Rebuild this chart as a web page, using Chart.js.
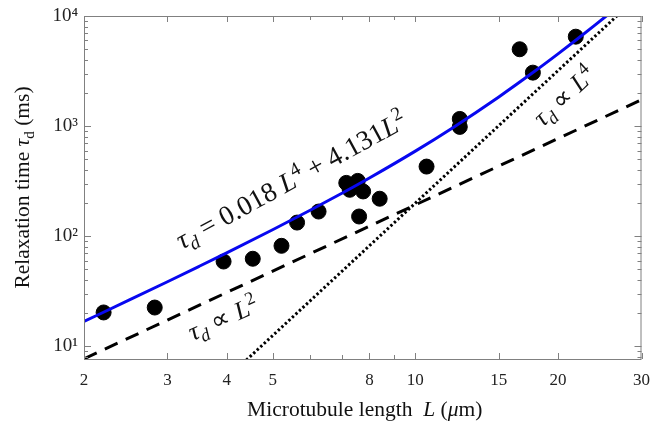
<!DOCTYPE html>
<html>
<head>
<meta charset="utf-8">
<script src="https://cdn.jsdelivr.net/npm/chart.js@4"></script>
<style>
  html, body { margin: 0; padding: 0; background: #fff; }
  #wrap { width: 650px; height: 421px; }
</style>
</head>
<body>
<div id="wrap"><canvas id="relaxChart" width="650" height="421"></canvas></div>
<script>
// measured points: microtubule length L (um) vs relaxation time (ms)
const lengths = [2.20, 2.82, 3.94, 4.54, 5.22, 5.63, 6.25, 7.15, 7.27, 7.56, 7.76, 7.61, 8.41, 10.56, 12.41, 12.41, 16.6, 17.7, 21.8];
const times = [20.3, 22.5, 58.9, 62.4, 81.8, 133, 167.5, 305, 264, 318, 255, 151, 219, 429, 1162, 984, 4988, 3059, 6490];

// fitted curve
const fitLengths = [2, 2.5, 3, 3.5, 4, 5, 6, 7, 8, 10, 12, 15, 18, 20, 22, 24, 26];
const fitTimes = [16.8, 26.5, 38.6, 53.3, 70.7, 114.5, 172, 245.6, 338, 593, 968, 1841, 3228, 4532, 6216, 8352, 11017];

// guide lines (end points)
const sqLengths = [2, 30];
const sqTimes = [7.7, 1735];
const quartLengths = [4.4, 27];
const quartTimes = [7.5, 10600];

// axes
const xTicks = [2, 3, 4, 5, 6, 7, 8, 9, 10, 15, 20, 30];
const xLabels = [2, 3, 4, 5, 8, 10, 15, 20, 30];
const yTicks = [8, 9, 10, 20, 30, 40, 50, 60, 70, 80, 90, 100, 200, 300, 400, 500, 600, 700, 800, 900,
                1000, 2000, 3000, 4000, 5000, 6000, 7000, 8000, 9000, 10000];
const yLabels = { 10: '10¹', 100: '10²', 1000: '10³', 10000: '10⁴' };

const toXY = (xs, ys) => xs.map((x, i) => ({ x: x, y: ys[i] }));

const serif = '"Liberation Serif", "Times New Roman", serif';

function drawRich(ctx, segs, cx, cy, angle, size) {
    let total = 0;
    const parts = segs.map(s => {
        const fs = s.sub || s.sup ? size * 0.7 : size;
        const font = (s.it ? 'italic ' : '') + fs + 'px ' + serif;
        ctx.font = font;
        const w = ctx.measureText(s.t).width;
        total += w;
        return { t: s.t, font: font, w: w, dy: s.sub ? size * 0.22 : (s.sup ? -size * 0.38 : 0) };
    });
    ctx.save();
    ctx.translate(cx, cy);
    ctx.rotate(angle * Math.PI / 180);
    ctx.fillStyle = '#111';
    ctx.textBaseline = 'alphabetic';
    ctx.textAlign = 'left';
    let x = -total / 2;
    parts.forEach(p => {
        ctx.font = p.font;
        ctx.fillText(p.t, x, size * 0.33 + p.dy);
        x += p.w;
    });
    ctx.restore();
}

const framePlugin = {
    id: 'frame',
    afterDraw(chart) {
        const ctx = chart.ctx;
        const a = chart.chartArea;
        const xs = chart.scales.x, ys = chart.scales.y;
        ctx.save();
        ctx.strokeStyle = '#808080';
        ctx.lineWidth = 1;
        ctx.strokeRect(a.left + 0.5, a.top + 0.5, a.right - a.left - 1, a.bottom - a.top);
        ctx.beginPath();
        xTicks.forEach(v => {
            const px = Math.round(xs.getPixelForValue(v)) + 0.5;
            const len = xLabels.includes(v) ? 6 : 4;
            ctx.moveTo(px, a.bottom); ctx.lineTo(px, a.bottom - len);
            ctx.moveTo(px, a.top); ctx.lineTo(px, a.top + len);
        });
        yTicks.forEach(v => {
            const py = Math.round(ys.getPixelForValue(v)) + 0.5;
            const len = yLabels[v] ? 7 : 4;
            ctx.moveTo(a.left, py); ctx.lineTo(a.left + len, py);
            ctx.moveTo(a.right, py); ctx.lineTo(a.right - len, py);
        });
        ctx.stroke();
        ctx.restore();

        // axis titles
        drawRich(ctx, [
            { t: 'Microtubule length  ' }, { t: 'L', it: true }, { t: ' (' }, { t: 'μ', it: true }, { t: 'm)' }
        ], (a.left + a.right) / 2 + 2, 409, 0, 21.5);
        drawRich(ctx, [
            { t: 'Relaxation time ' }, { t: 'τ', it: true }, { t: 'd', sub: true }, { t: ' (ms)' }
        ], 22, (a.top + a.bottom) / 2, -90, 21.5);

        // annotations
        drawRich(ctx, [
            { t: 'τ', it: true }, { t: 'd', it: true, sub: true }, { t: ' = 0.018 ' }, { t: 'L', it: true }, { t: '4', sup: true },
            { t: ' + 4.131' }, { t: 'L', it: true }, { t: '2', sup: true }
        ], 291, 180, -28.6, 27.5);
        drawRich(ctx, [
            { t: 'τ', it: true }, { t: 'd', it: true, sub: true }, { t: ' ∝ ' }, { t: 'L', it: true }, { t: '2', sup: true }
        ], 223, 318, -24, 26);
        drawRich(ctx, [
            { t: 'τ', it: true }, { t: 'd', it: true, sub: true }, { t: ' ∝ ' }, { t: 'L', it: true }, { t: '4', sup: true }
        ], 564, 96, -43, 26);
    }
};

new Chart(document.getElementById('relaxChart').getContext('2d'), {
    type: 'scatter',
    data: {
        datasets: [{
            label: 'fit',
            data: toXY(fitLengths, fitTimes),
            showLine: true,
            borderColor: '#0808f0',
            borderWidth: 3,
            pointRadius: 0,
            cubicInterpolationMode: 'monotone'
        }, {
            label: 'L^2',
            data: toXY(sqLengths, sqTimes),
            showLine: true,
            borderColor: '#000',
            borderWidth: 3,
            borderDash: [14, 9],
            pointRadius: 0
        }, {
            label: 'L^4',
            data: toXY(quartLengths, quartTimes),
            showLine: true,
            borderColor: '#000',
            borderWidth: 3,
            borderDash: [2.4, 2.4],
            pointRadius: 0
        }, {
            label: 'data',
            data: toXY(lengths, times),
            backgroundColor: '#000',
            borderColor: '#000',
            pointRadius: 7.5,
            pointHoverRadius: 7.5
        }]
    },
    options: {
        responsive: false,
        animation: false,
        layout: { padding: { top: 16, right: 8, left: 0, bottom: 0 } },
        plugins: {
            legend: { display: false },
            tooltip: { enabled: false }
        },
        scales: {
            x: {
                type: 'logarithmic',
                min: 2,
                max: 30,
                grid: { display: false, drawTicks: false },
                border: { display: false },
                afterBuildTicks: s => { s.ticks = xTicks.map(v => ({ value: v })); },
                afterFit: s => { s.height = 62; s.paddingLeft = 0; s.paddingRight = 0; },
                ticks: {
                    autoSkip: false,
                    maxRotation: 0,
                    padding: 11,
                    color: '#222',
                    font: { family: serif, size: 17 },
                    callback: v => xLabels.includes(v) ? String(v) : ''
                }
            },
            y: {
                type: 'logarithmic',
                min: 7.67,
                max: 10000,
                grid: { display: false, drawTicks: false },
                border: { display: false },
                afterBuildTicks: s => { s.ticks = yTicks.map(v => ({ value: v })); },
                afterFit: s => { s.width = 84; s.paddingTop = 0; s.paddingBottom = 0; },
                ticks: {
                    autoSkip: false,
                    padding: 6,
                    color: '#222',
                    font: { family: serif, size: 19 },
                    callback: v => yLabels[v] || ''
                }
            }
        }
    },
    plugins: [framePlugin]
});
</script>
</body>
</html>
